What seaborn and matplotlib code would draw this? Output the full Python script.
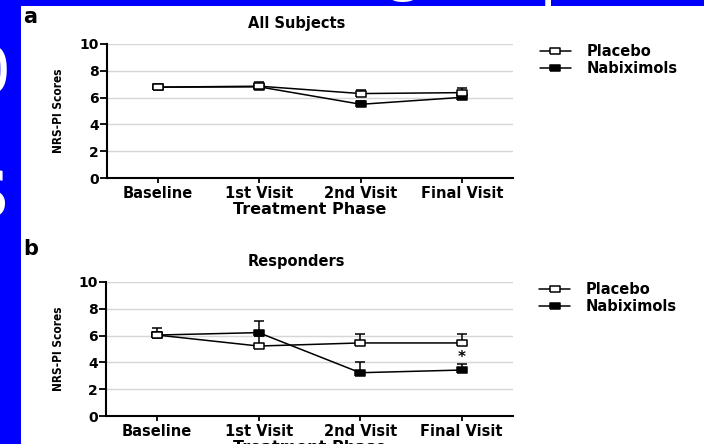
import numpy as np
import pandas as pd
import matplotlib
matplotlib.use("Agg")
import matplotlib.pyplot as plt
import seaborn as sns
from matplotlib.patches import Rectangle

# ---- data -------------------------------------------------------------
phases = ["Baseline", "1st Visit", "2nd Visit", "Final Visit"]
groups = ["Placebo", "Nabiximols"]

# panel a: all subjects (mean NRS-PI score and top of the error bar)
all_placebo = [6.78, 6.85, 6.30, 6.37]
all_placebo_upper = [6.95, 7.15, 6.60, 6.70]
all_nabix = [6.78, 6.80, 5.50, 6.02]
all_nabix_upper = [6.90, 7.00, 5.75, 6.25]

# panel b: responders
resp_placebo = [6.04, 5.22, 5.45, 5.45]
resp_placebo_upper = [6.55, 5.95, 6.10, 6.10]
resp_nabix = [6.04, 6.22, 3.23, 3.43]
resp_nabix_upper = [6.25, 7.05, 4.00, 3.88]

# significance flag per phase for the responders' Nabiximols arm
resp_nabix_signif = [False, False, False, True]

y_ticks = [0, 2, 4, 6, 8, 10]

# ---- style ------------------------------------------------------------
sns.set_theme(style="white")
plt.rcParams["font.family"] = ["DejaVu Sans"]
plt.rcParams["font.weight"] = "bold"
for key in ("text.color", "axes.labelcolor", "xtick.color", "ytick.color"):
    plt.rcParams[key] = "black"

BLUE = "#0000FE"
rect_marker = [(-1.5, -1), (1.5, -1), (1.5, 1), (-1.5, 1), (-1.5, -1)]

fig = plt.figure(figsize=(7.04, 4.44), dpi=100, facecolor=BLUE)
W, H = 704.0, 444.0

# slide text peeking out behind the white figure card
serif = ["Liberation Serif", "DejaVu Serif"]
fig.text(9 / W, 1 - 93 / H, "0", fontsize=51, family=serif, color="white",
         ha="right", va="baseline", weight="normal", zorder=-3)
fig.text(9 / W, 1 - 217 / H, "S", fontsize=51, family=serif, color="white",
         ha="right", va="baseline", weight="normal", zorder=-3)
fig.text(404 / W, 1 + 13 / H, "g", fontsize=51, family=serif, color="white",
         ha="center", va="baseline", weight="normal", zorder=-3)
fig.text(540 / W, 1 + 6 / H, "p", fontsize=51, family=serif, color="white",
         ha="left", va="baseline", weight="normal", zorder=-3)

# white card holding both panels
fig.patches.append(Rectangle((21 / W, 0), 1 - 21 / W, 1 - 6 / H,
                             transform=fig.transFigure, facecolor="white",
                             edgecolor="none", zorder=-1))

label_font = ["Liberation Sans Narrow", "DejaVu Sans"]


def draw_panel(ax, placebo, placebo_hi, nabix, nabix_hi, title, letter, letter_y):
    df = pd.DataFrame({
        "Phase": phases * 2,
        "Score": nabix + placebo,
        "Group": ["Nabiximols"] * len(phases) + ["Placebo"] * len(phases),
    })

    # one-sided (upper) error bars
    for vals, hi, z in ((nabix, nabix_hi, 3), (placebo, placebo_hi, 4)):
        v = np.asarray(vals)
        ax.errorbar(phases, v, yerr=[np.zeros_like(v), np.asarray(hi) - v],
                    fmt="none", ecolor="black", elinewidth=1.1,
                    capsize=3.3, capthick=1.1, zorder=z)

    for grp, face, z in (("Nabiximols", "black", 5), ("Placebo", "white", 6)):
        sns.lineplot(data=df[df["Group"] == grp], x="Phase", y="Score",
                     color="black", lw=1.1, marker=rect_marker, ms=7.5,
                     mfc=face, mec="black", mew=1.1, sort=False,
                     errorbar=None, label=grp, ax=ax, zorder=z)

    ax.set_xlim(-0.5, len(phases) - 0.5)
    ax.set_ylim(0, 10)
    ax.set_yticks(y_ticks)
    ax.yaxis.grid(True, color="#d6d6d6", lw=1.0)
    ax.xaxis.grid(False)
    ax.set_axisbelow(True)
    for s in ("top", "right"):
        ax.spines[s].set_visible(False)
    for s in ("left", "bottom"):
        ax.spines[s].set_color("black")
        ax.spines[s].set_linewidth(1.5)

    ax.tick_params(axis="y", left=True, length=5, width=1.3, pad=1,
                   labelsize=10, colors="black")
    ax.tick_params(axis="x", bottom=True, length=3.5, width=1.3, pad=2,
                   labelsize=10.5, colors="black")
    for t in ax.get_xticklabels() + ax.get_yticklabels():
        t.set_fontweight("bold")

    ax.set_xlabel("Treatment Phase", fontsize=11.5, fontweight="bold",
                  labelpad=1, color="black")
    ax.set_ylabel("NRS-PI Scores", fontsize=8.5, fontweight="bold",
                  family=label_font, fontstretch="condensed",
                  labelpad=10, color="black")
    ax.set_title(title, x=0.468, pad=11.8, fontsize=10.5, fontweight="bold",
                 color="black")

    handles, labels = ax.get_legend_handles_labels()
    order = [labels.index(g) for g in groups]
    leg = ax.legend([handles[i] for i in order], [labels[i] for i in order],
                    loc="upper left", bbox_to_anchor=(1.066, 1.0), frameon=False,
                    borderpad=0, borderaxespad=0, handlelength=2.1,
                    handletextpad=1.1, labelspacing=0.15,
                    prop={"size": 10.5, "weight": "bold"})
    for t in leg.get_texts():
        t.set_color("black")

    fig.text(23 / W, 1 - letter_y / H, letter, fontsize=15, fontweight="bold",
             ha="left", va="baseline", color="black")


ax_a = fig.add_axes([0.152, 0.599, 0.577, 0.302])
draw_panel(ax_a, all_placebo, all_placebo_upper, all_nabix, all_nabix_upper,
           "All Subjects", "a", 23)

ax_b = fig.add_axes([0.151, 0.063, 0.577, 0.302])
draw_panel(ax_b, resp_placebo, resp_placebo_upper, resp_nabix, resp_nabix_upper,
           "Responders", "b", 255)

for phase, hi, flag in zip(phases, resp_nabix_upper, resp_nabix_signif):
    if flag:
        ax_b.annotate("*", xy=(phase, hi), xytext=(0, -1),
                      textcoords="offset points", ha="center", va="bottom",
                      fontsize=11, fontweight="bold", color="black")

fig.savefig("out.png", dpi=100, facecolor=fig.get_facecolor())
